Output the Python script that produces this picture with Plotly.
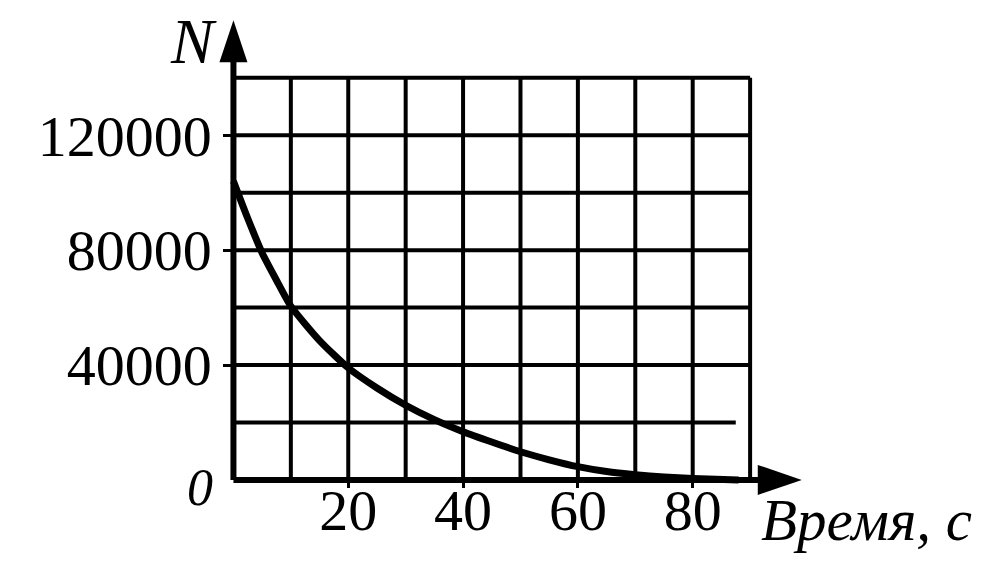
import plotly.graph_objects as go

# ---- data ----
time_s = [0, 2.5, 5, 7.5, 10, 15, 20, 25, 30, 35, 40, 45, 50, 55, 60, 65, 70, 75, 80, 88]
nuclei = [104000, 91000, 79000, 69500, 60500, 48500, 39000, 32000, 26000, 21000,
          16800, 13200, 9800, 7000, 4600, 2900, 1800, 1000, 500, 0]

x_tick_vals = [20, 40, 60, 80]
x_tick_text = ["20", "40", "60", "80"]
y_tick_vals = [40000, 80000, 120000]
y_tick_text = ["40000", "80000", "120000"]
origin_label = "0"
y_axis_title = "N"
x_axis_title = "Время, с"

grid_x = [10, 20, 30, 40, 50, 60, 70, 80, 90]
grid_y = [20000, 40000, 60000, 80000, 100000, 120000, 140000]
grid_x_max = 90
grid_y_max = 140000
x_arrow_tip = 99
y_arrow_tip = 160000

# ---- layout geometry ----
W, H = 1004, 565
x0px, y0px = 233, 480
ppx = 5.75              # pixels per second
ppy = 57.5 / 20000      # pixels per nucleus
xr = [-6, 102]
yr = [-7000, 165000]
l = x0px - (0 - xr[0]) * ppx
pw = (xr[1] - xr[0]) * ppx
r = W - l - pw
b = H - (y0px + (0 - yr[0]) * ppy)
ph = (yr[1] - yr[0]) * ppy
t = H - b - ph

FONT = "Liberation Serif"
fig = go.Figure()

fig.add_trace(go.Scatter(x=time_s, y=nuclei, mode="lines",
                         line=dict(color="black", width=7, shape="spline", smoothing=0.6),
                         hoverinfo="skip", showlegend=False))

shapes = []
for gx in grid_x:
    shapes.append(dict(type="line", xref="x", yref="y", x0=gx, x1=gx, y0=0, y1=grid_y_max,
                       line=dict(color="black", width=4)))
for gy in grid_y:
    xend = 87.5 if gy == 20000 else grid_x_max
    shapes.append(dict(type="line", xref="x", yref="y", x0=0, x1=xend, y0=gy, y1=gy,
                       line=dict(color="black", width=4)))
# axes
shapes.append(dict(type="line", xref="x", yref="y", x0=0, x1=x_arrow_tip - 5, y0=0, y1=0,
                   line=dict(color="black", width=6)))
shapes.append(dict(type="line", xref="x", yref="y", x0=0, x1=0, y0=0, y1=y_arrow_tip - 10000,
                   line=dict(color="black", width=6)))
# arrow heads
shapes.append(dict(type="path", xref="x", yref="y", xsizemode="pixel", ysizemode="pixel",
                   xanchor=x_arrow_tip, yanchor=0,
                   path="M 0 0 L -44 15 L -44 -15 Z", fillcolor="black", line=dict(width=0)))
shapes.append(dict(type="path", xref="x", yref="y", xsizemode="pixel", ysizemode="pixel",
                   xanchor=0, yanchor=y_arrow_tip,
                   path="M 0 0 L -14 -42 L 14 -42 Z", fillcolor="black", line=dict(width=0)))

annotations = [
    dict(x=-2.6, y=(y0px - 41) / ppy, xref="x", yref="y", text="<i>" + y_axis_title + "</i>",
         showarrow=False, xanchor="right", yanchor="middle",
         font=dict(family=FONT, size=64, color="black")),
    dict(x=91.5, y=0, yshift=-40, xref="x", yref="y", text="<i>" + x_axis_title + "</i>",
         showarrow=False, xanchor="left", yanchor="middle",
         font=dict(family=FONT, size=59, color="black")),
    dict(x=-3.3, y=(y0px - 488) / ppy, xref="x", yref="y", text="<i>" + origin_label + "</i>",
         showarrow=False, xanchor="right", yanchor="middle",
         font=dict(family=FONT, size=52, color="black")),
]

fig.update_layout(
    width=W, height=H,
    margin=dict(l=l, r=r, t=t, b=b, pad=0, autoexpand=False),
    paper_bgcolor="white", plot_bgcolor="white",
    shapes=shapes, annotations=annotations,
    xaxis=dict(range=xr, showgrid=False, zeroline=False, showline=False, automargin=False,
               anchor="free", position=(0 - yr[0]) / (yr[1] - yr[0]),
               tickvals=x_tick_vals, ticktext=x_tick_text,
               ticks="outside", ticklen=7, tickwidth=3, tickcolor="black",
               ticklabelstandoff=-27,
               tickfont=dict(family=FONT, size=58, color="black")),
    yaxis=dict(range=yr, showgrid=False, zeroline=False, showline=False, automargin=False,
               anchor="free", position=(0 - xr[0]) / (xr[1] - xr[0]),
               tickvals=y_tick_vals, ticktext=y_tick_text,
               ticks="outside", ticklen=10, tickwidth=3, tickcolor="black",
               tickfont=dict(family=FONT, size=58, color="black")),
)

fig.write_html("out.html", config={"displayModeBar": False},
               post_script="document.body.style.margin='0';")
